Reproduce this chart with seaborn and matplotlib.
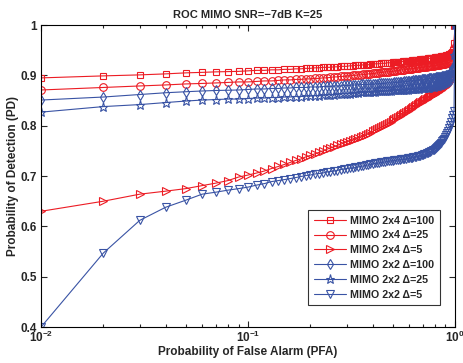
import numpy as np
import pandas as pd
import seaborn as sns
import matplotlib
matplotlib.use("Agg")
import matplotlib.pyplot as plt
from matplotlib.ticker import FixedLocator, FixedFormatter, LogLocator, NullFormatter

# PFA thresholds: 0.01 ... 1.00
pfa = np.round(np.arange(1, 101) / 100, 2)

# PD values (10 per row)
pd_2x4_d100 = [
    .895, .899, .901, .903, .905, .906, .907, .9075, .908, .909,
    .910, .910, .911, .911, .912, .912, .913, .913, .914, .914,
    .915, .915, .916, .916, .916, .917, .917, .918, .918, .918,
    .919, .919, .920, .920, .920, .921, .921, .921, .922, .922,
    .923, .923, .923, .924, .924, .924, .925, .925, .925, .926,
    .926, .926, .927, .927, .927, .928, .928, .928, .929, .929,
    .929, .930, .930, .930, .931, .931, .931, .932, .932, .932,
    .933, .933, .933, .934, .934, .934, .935, .935, .935, .936,
    .936, .936, .937, .937, .937, .938, .938, .938, .939, .939,
    .940, .940, .941, .942, .943, .944, .946, .950, .965, 1.0,
]
pd_2x4_d25 = [
    .871, .876, .879, .881, .883, .884, .885, .886, .887, .887,
    .888, .889, .889, .890, .891, .891, .892, .892, .893, .893,
    .894, .894, .895, .895, .896, .897, .897, .898, .898, .899,
    .899, .900, .900, .901, .901, .902, .902, .903, .903, .904,
    .904, .905, .905, .906, .906, .907, .907, .907, .908, .908,
    .909, .909, .910, .910, .911, .911, .911, .912, .912, .913,
    .913, .913, .914, .914, .915, .915, .915, .916, .916, .916,
    .917, .917, .917, .918, .918, .918, .919, .919, .919, .920,
    .920, .920, .921, .921, .921, .922, .922, .922, .923, .923,
    .924, .924, .925, .926, .927, .929, .931, .936, .955, 1.0,
]
pd_2x4_d5 = [
    .630, .650, .664, .670, .675, .681, .686, .691, .698, .702,
    .706, .710, .715, .719, .723, .727, .731, .734, .738, .741,
    .744, .747, .750, .753, .756, .758, .761, .763, .766, .768,
    .770, .772, .774, .776, .778, .780, .782, .784, .786, .789,
    .791, .793, .795, .797, .799, .801, .803, .806, .808, .811,
    .813, .815, .817, .819, .821, .823, .825, .827, .829, .832,
    .834, .836, .838, .840, .841, .843, .845, .847, .848, .850,
    .851, .853, .854, .856, .857, .859, .860, .861, .863, .864,
    .865, .866, .867, .869, .870, .871, .873, .874, .876, .877,
    .879, .881, .884, .887, .891, .896, .903, .915, .940, 1.0,
]
pd_2x2_d100 = [
    .851, .857, .862, .8655, .8675, .869, .870, .8705, .871, .872,
    .873, .873, .874, .874, .875, .875, .876, .876, .876, .877,
    .877, .877, .878, .878, .878, .879, .879, .879, .880, .880,
    .880, .881, .881, .881, .882, .882, .882, .882, .883, .883,
    .883, .883, .884, .884, .884, .884, .885, .885, .885, .885,
    .886, .886, .886, .887, .887, .887, .888, .888, .888, .889,
    .889, .889, .890, .890, .890, .891, .891, .891, .892, .892,
    .892, .893, .893, .893, .894, .894, .894, .895, .895, .895,
    .896, .896, .896, .897, .897, .897, .898, .898, .899, .899,
    .900, .900, .901, .902, .904, .906, .910, .917, .940, 1.0,
]
pd_2x2_d25 = [
    .827, .838, .842, .846, .849, .851, .852, .853, .853, .854,
    .855, .855, .856, .856, .857, .857, .858, .858, .859, .859,
    .860, .860, .861, .861, .862, .862, .863, .863, .864, .864,
    .864, .865, .865, .865, .866, .866, .866, .867, .867, .867,
    .867, .868, .868, .868, .868, .869, .869, .869, .869, .870,
    .870, .870, .870, .870, .871, .871, .871, .871, .871, .872,
    .872, .872, .872, .873, .873, .873, .873, .874, .874, .874,
    .874, .874, .875, .875, .875, .876, .876, .877, .877, .878,
    .878, .879, .879, .880, .881, .881, .882, .883, .884, .885,
    .886, .887, .889, .891, .894, .898, .904, .915, .940, 1.0,
]
pd_2x2_d5 = [
    .400, .547, .612, .638, .652, .664, .668, .672, .675, .678,
    .682, .685, .689, .691, .693, .695, .697, .699, .701, .702,
    .704, .705, .706, .708, .709, .710, .711, .713, .714, .715,
    .716, .716, .717, .718, .719, .720, .721, .722, .723, .724,
    .725, .725, .726, .727, .727, .728, .729, .729, .730, .730,
    .731, .731, .732, .732, .733, .733, .734, .734, .735, .735,
    .736, .736, .737, .737, .738, .739, .739, .740, .741, .742,
    .743, .744, .745, .746, .747, .748, .749, .751, .752, .754,
    .756, .758, .760, .762, .764, .766, .769, .771, .774, .778,
    .782, .786, .790, .795, .801, .808, .815, .822, .830, 1.0,
]

labels = ["MIMO 2x4 \u0394=100", "MIMO 2x4 \u0394=25", "MIMO 2x4 \u0394=5",
          "MIMO 2x2 \u0394=100", "MIMO 2x2 \u0394=25", "MIMO 2x2 \u0394=5"]
series = [pd_2x4_d100, pd_2x4_d25, pd_2x4_d5, pd_2x2_d100, pd_2x2_d25, pd_2x2_d5]
markers = ["s", "o", ">", "d", "*", "v"]
red, blue = "#ec1c24", "#3953a4"
colors = [red, red, red, blue, blue, blue]
msizes = [5, 5.5, 6, 5.5, 6.5, 6]


def main():
    sns.set_style("ticks")
    plt.rcParams["font.family"] = ["Liberation Sans", "DejaVu Sans"]
    plt.rcParams["font.weight"] = "bold"
    plt.rcParams["mathtext.fontset"] = "custom"
    plt.rcParams["mathtext.bf"] = "Liberation Sans:bold"
    plt.rcParams["mathtext.rm"] = "Liberation Sans:bold"

    fig = plt.figure(figsize=(4.63, 3.63), dpi=100)
    ax = fig.add_axes([0.0886, 0.099, 0.894, 0.832])

    for lab, ys, mk, col, ms in zip(labels, series, markers, colors, msizes):
        df = pd.DataFrame({"PFA": pfa, "PD": ys})
        sns.lineplot(data=df, x="PFA", y="PD", ax=ax, color=col, marker=mk,
                     markersize=ms, markerfacecolor="none", markeredgecolor=col,
                     markeredgewidth=0.8, linewidth=0.8, label=lab, errorbar=None)

    ax.set_xscale("log")
    ax.set_xlim(0.01, 1)
    ax.set_ylim(0.4, 1)
    ax.xaxis.set_major_locator(FixedLocator([0.01, 0.1, 1]))
    ax.xaxis.set_major_formatter(FixedFormatter([r"$\mathbf{10^{-2}}$", r"$\mathbf{10^{-1}}$", r"$\mathbf{10^{0}}$"]))
    ax.xaxis.set_minor_locator(LogLocator(base=10, subs=np.arange(2, 10)))
    ax.xaxis.set_minor_formatter(NullFormatter())
    ax.set_yticks([0.4, 0.5, 0.6, 0.7, 0.8, 0.9, 1.0])
    ax.set_yticklabels(["0.4", "0.5", "0.6", "0.7", "0.8", "0.9", "1"])
    ax.tick_params(which="both", direction="in", top=True, right=True, labelsize=8.5, width=0.8)
    ax.tick_params(which="major", length=4)
    ax.tick_params(which="minor", length=2)
    ax.tick_params(axis="x", pad=2)
    ax.tick_params(axis="y", pad=3)
    for s in ax.spines.values():
        s.set_linewidth(0.8)
        s.set_color("black")

    ax.set_title("ROC MIMO SNR=\u22127dB K=25", fontsize=8, fontweight="bold", pad=5)
    ax.set_xlabel("Probability of False Alarm (PFA)", fontsize=8.5, fontweight="bold", labelpad=1)
    ax.set_ylabel("Probability of Detection (PD)", fontsize=8.5, fontweight="bold", labelpad=1)

    leg = ax.legend(loc="lower right", bbox_to_anchor=(440 / 463, 1 - 305 / 363),
                    bbox_transform=fig.transFigure, borderaxespad=0,
                    fontsize=7.7, frameon=True, fancybox=False,
                    handlelength=3.0, labelspacing=0.45,
                    borderpad=0.5, handletextpad=0.45)
    leg.get_frame().set_edgecolor("black")
    leg.get_frame().set_linewidth(0.8)
    for t in leg.get_texts():
        t.set_fontweight("bold")

    fig.savefig("out.png", dpi=100, facecolor="white")


if __name__ == "__main__":
    main()
